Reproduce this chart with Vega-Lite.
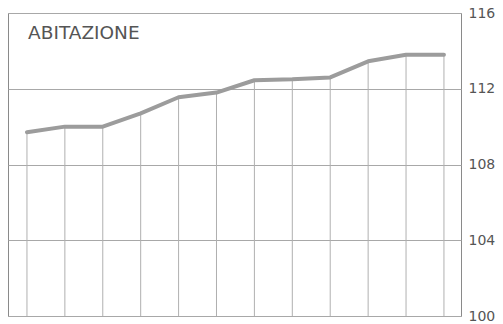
{
  "$schema": "https://vega.github.io/schema/vega-lite/v6.json",
  "width": 453,
  "height": 303,
  "autosize": "none",
  "padding": {"left": 8, "top": 13, "right": 42, "bottom": 8},
  "background": "white",
  "config": {
    "view": {"stroke": "#8a8a8a", "strokeWidth": 1},
    "font": "DejaVu Sans"
  },
  "data": {
    "values": [
      {"m": 1, "v": 109.7},
      {"m": 2, "v": 110.0},
      {"m": 3, "v": 110.0},
      {"m": 4, "v": 110.7},
      {"m": 5, "v": 111.55},
      {"m": 6, "v": 111.8},
      {"m": 7, "v": 112.45},
      {"m": 8, "v": 112.5},
      {"m": 9, "v": 112.6},
      {"m": 10, "v": 113.45},
      {"m": 11, "v": 113.8},
      {"m": 12, "v": 113.8}
    ]
  },
  "layer": [
    {
      "mark": {"type": "rule", "color": "#b0b0b0", "strokeWidth": 1},
      "encoding": {
        "x": {"field": "m", "type": "quantitative", "scale": {"domain": [0.5, 12.45], "nice": false, "zero": false}, "axis": null},
        "y": {"field": "v", "type": "quantitative"},
        "y2": {"datum": 100}
      }
    },
    {
      "mark": {"type": "line", "color": "#9c9c9c", "strokeWidth": 4, "interpolate": "linear", "strokeCap": "round", "strokeJoin": "round"},
      "encoding": {
        "x": {"field": "m", "type": "quantitative", "scale": {"domain": [0.5, 12.45], "nice": false, "zero": false}, "axis": null},
        "y": {
          "field": "v",
          "type": "quantitative",
          "scale": {"domain": [100, 116], "nice": false, "zero": false},
          "axis": {
            "orient": "right",
            "values": [100, 104, 108, 112, 116],
            "title": null,
            "domain": false,
            "ticks": false,
            "grid": true,
            "gridColor": "#a8a8a8",
            "gridWidth": 1,
            "labelFont": "DejaVu Sans",
            "labelFontSize": 14,
            "labelColor": "#555555",
            "labelPadding": 7,
            "labelFlush": false
          }
        }
      }
    },
    {
      "data": {"values": [{"m": 1.03, "v": 114.94, "label": "ABITAZIONE"}]},
      "mark": {"type": "text", "align": "left", "baseline": "middle", "fontSize": 18.5, "font": "DejaVu Sans", "color": "#555555"},
      "encoding": {
        "x": {"field": "m", "type": "quantitative"},
        "y": {"field": "v", "type": "quantitative"},
        "text": {"field": "label"}
      }
    }
  ]
}
